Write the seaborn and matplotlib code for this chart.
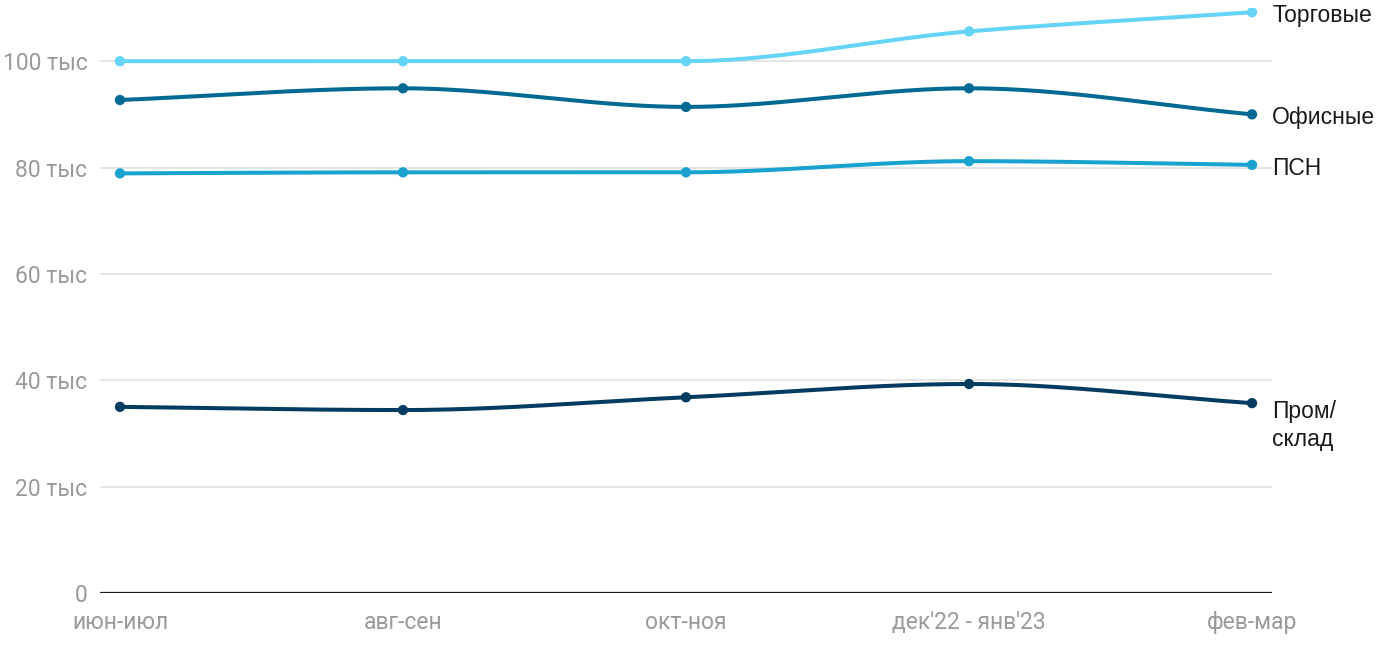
"""Ставки аренды по сегментам коммерческой недвижимости."""
import numpy as np
import pandas as pd
import matplotlib
matplotlib.use("Agg")
import matplotlib.pyplot as plt
import seaborn as sns

periods = ["июн-июл", "авг-сен", "окт-ноя", "дек'22 - янв'23", "фев-мар"]
trade = [100.0, 100.0, 100.0, 105.6, 109.2]
office = [92.7, 94.9, 91.4, 94.9, 90.0]
psn = [78.9, 79.1, 79.1, 81.2, 80.5]
industrial = [35.0, 34.4, 36.8, 39.3, 35.7]

series_names = ["Торговые", "Офисные", "ПСН", "Пром/\nсклад"]
series_values = [trade, office, psn, industrial]
colors = ["#66d4f6", "#006a93", "#19a2d0", "#023d61"]
yticks = [0, 20, 40, 60, 80, 100]


def pchip(x, y, xs):
    # monotone cubic (Fritsch-Carlson), just for drawing the smooth line
    x = np.asarray(x, float)
    y = np.asarray(y, float)
    h = np.diff(x)
    d = np.diff(y) / h
    m = np.zeros_like(y)
    m[0], m[-1] = d[0], d[-1]
    for i in range(1, len(y) - 1):
        if d[i - 1] * d[i] > 0:
            w1 = 2 * h[i] + h[i - 1]
            w2 = h[i] + 2 * h[i - 1]
            m[i] = (w1 + w2) / (w1 / d[i - 1] + w2 / d[i])
    idx = np.clip(np.searchsorted(x, xs) - 1, 0, len(x) - 2)
    t = (xs - x[idx]) / h[idx]
    h00 = 2 * t**3 - 3 * t**2 + 1
    h10 = t**3 - 2 * t**2 + t
    h01 = -2 * t**3 + 3 * t**2
    h11 = t**3 - t**2
    return h00 * y[idx] + h10 * h[idx] * m[idx] + h01 * y[idx + 1] + h11 * h[idx] * m[idx + 1]


sns.set_theme(style="white")
plt.rcParams["font.family"] = ["Roboto", "DejaVu Sans"]
label_font = ["Liberation Sans", "DejaVu Sans"]

fig = plt.figure(figsize=(14, 6.5), dpi=100)
ax = fig.add_axes([0.0714, 0.0877, 0.8372, 0.90])

xpos = np.arange(len(periods))
xs = np.linspace(0, len(periods) - 1, 400)

for name, vals, col in zip(series_names, series_values, colors):
    pts = pd.DataFrame({"x": xpos, "y": vals})
    smooth = pd.DataFrame({"x": xs, "y": pchip(xpos, vals, xs)})
    sns.lineplot(data=smooth, x="x", y="y", color=col, linewidth=2.9, ax=ax, zorder=3)
    sns.scatterplot(data=pts, x="x", y="y", color=col, s=55, edgecolor="none", ax=ax, zorder=4)
    if "\n" in name:
        ax.annotate(name, (xpos[-1], vals[-1]), xytext=(14.5, 2), textcoords="offset points",
                    ha="left", va="top", fontsize=16.5, color="#1a1a1a", linespacing=1.25,
                    family=label_font, annotation_clip=False)
    else:
        ax.annotate(name, (xpos[-1], vals[-1]), xytext=(14.5, -2.5), textcoords="offset points",
                    ha="left", va="center", fontsize=16.5, color="#1a1a1a",
                    family=label_font, annotation_clip=False)

ax.set_xlim(-0.0707, 4.0707)
ax.set_ylim(0, 110)
ax.set_yticks(yticks)
ax.set_yticklabels(["0"] + [f"{v} тыс" for v in yticks[1:]])
ax.set_xticks(xpos)
ax.set_xticklabels(periods)
ax.tick_params(axis="y", length=0, pad=9, labelsize=16.5, labelcolor="#9a9a9a")
ax.tick_params(axis="x", length=0, pad=13, labelsize=16.5, labelcolor="#9a9a9a")
ax.set_xlabel("")
ax.set_ylabel("")
for v in yticks[1:]:
    ax.axhline(v, color="#e3e3e3", linewidth=1.3, zorder=1)
ax.axhline(0, color="#1a1a1a", linewidth=1.6, zorder=2)
for s in ax.spines.values():
    s.set_visible(False)

fig.savefig("out.png", dpi=100)
